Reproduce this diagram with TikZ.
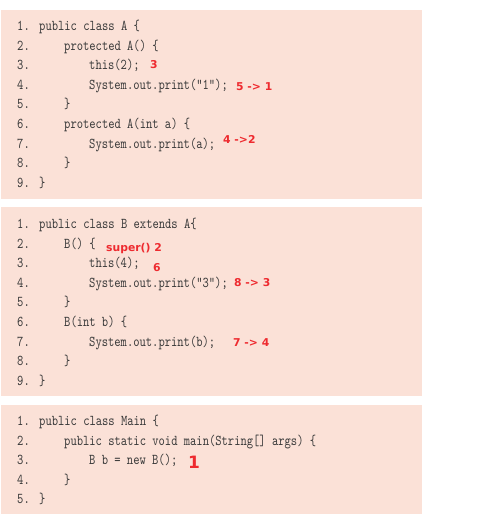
\documentclass[tikz,border=0pt]{standalone}
\usepackage{fontspec}
\newfontfamily\codefont[FakeStretch=0.8]{lmmono10-regular.otf}
\newfontfamily\notefont{DejaVu Sans}
\definecolor{boxbg}{HTML}{FBE1D7}
\definecolor{codegray}{HTML}{3A3A3A}
\definecolor{notered}{HTML}{EE2A2F}

\begin{document}
\begin{tikzpicture}[x=1pt, y=-1pt,
    num/.style={anchor=base west, inner sep=0pt, text=codegray,
      font=\codefont\fontsize{15}{15}\selectfont},
    code/.style={num},
    note/.style={anchor=base west, inner sep=0pt, text=notered,
      font=\notefont\bfseries\fontsize{10.8}{10.8}\selectfont}]
  \useasboundingbox (0,0) rectangle (481,529);

  % class A
  \fill[boxbg] (1,10) rectangle (422,199);
  \foreach \i in {1,...,9}
    \node[num] (a\i) at (17, {30.5+(\i-1)*19.6}) {\i.};
  \node[code] (ac1) at (39, 30.5) {public class A \{};
  \node[code] (ac2) at (64, 50.1) {protected A() \{};
  \node[code] (ac3) at (89, 69.7) {this(2);};
  \node[code] (ac4) at (89, 89.3) {System.out.print("1");};
  \node[code] (ac5) at (64, 108.9) {\}};
  \node[code] (ac6) at (64, 128.5) {protected A(int a) \{};
  \node[code] (ac7) at (89, 148.1) {System.out.print(a);};
  \node[code] (ac8) at (64, 167.7) {\}};
  \node[code] (ac9) at (39, 187.3) {\}};
  \node[note] (an3) at (150, 69) {3};
  \node[note] (an4) at (236, 91) {5 -> 1};
  \node[note] (an7) at (223, 144) {4 ->2};

  % class B
  \fill[boxbg] (1,207) rectangle (422,396);
  \foreach \i in {1,...,9}
    \node[num] (b\i) at (17, {228.5+(\i-1)*19.6}) {\i.};
  \node[code] (bc1) at (39, 228.5) {public class B extends A\{};
  \node[code] (bc2) at (64, 248.1) {B() \{};
  \node[code] (bc3) at (89, 267.7) {this(4);};
  \node[code] (bc4) at (89, 287.3) {System.out.print("3");};
  \node[code] (bc5) at (64, 306.9) {\}};
  \node[code] (bc6) at (64, 326.5) {B(int b) \{};
  \node[code] (bc7) at (89, 346.1) {System.out.print(b);};
  \node[code] (bc8) at (64, 365.7) {\}};
  \node[code] (bc9) at (39, 385.3) {\}};
  \node[note] (bn2) at (106, 251) {super() 2};
  \node[note] (bn3) at (153, 271) {6};
  \node[note] (bn4) at (234, 286) {8 -> 3};
  \node[note] (bn7) at (233, 346) {7 -> 4};

  % class Main
  \fill[boxbg] (1,405) rectangle (422,514);
  \foreach \i in {1,...,5}
    \node[num] (m\i) at (17, {425.5+(\i-1)*19.6}) {\i.};
  \node[code] (mc1) at (39, 425.5) {public class Main \{};
  \node[code] (mc2) at (64, 445.1) {public static void main(String[] args) \{};
  \node[code] (mc3) at (89, 464.7) {B b = new B();};
  \node[code] (mc4) at (64, 484.3) {\}};
  \node[code] (mc5) at (39, 503.9) {\}};
  \node[note, font=\notefont\bfseries\fontsize{17}{17}\selectfont]
    (mn3) at (188, 468) {1};
\end{tikzpicture}
\end{document}
